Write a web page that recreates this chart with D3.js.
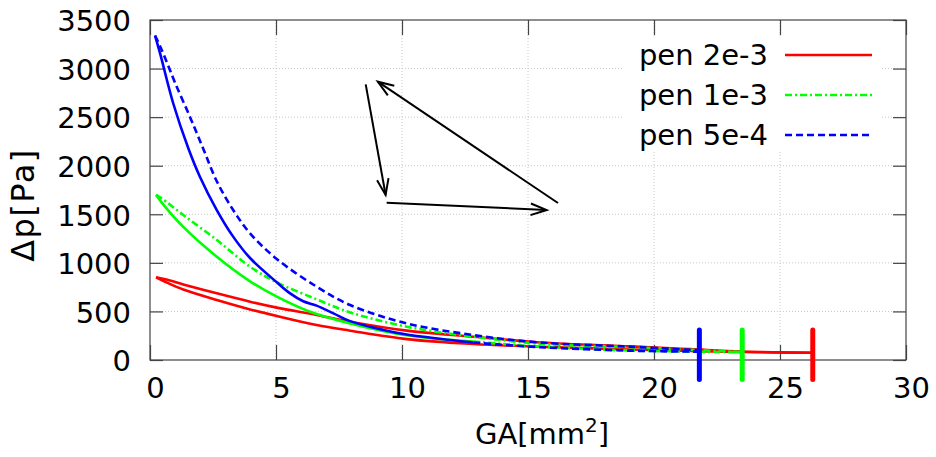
<!DOCTYPE html>
<html lang="en">
<head>
<meta charset="UTF-8">
<title>pressure drop vs gap area</title>
<style>
  body { margin: 0; background: #fff; }
  text { font-family: "DejaVu Sans", sans-serif; fill: #000; }
</style>
</head>
<body>
<svg width="936" height="457"></svg>
<script src="https://d3js.org/d3.v7.min.js"></script>
<script>

var xTicks = [0, 5, 10, 15, 20, 25, 30];
var yTicks = [0, 500, 1000, 1500, 2000, 2500, 3000, 3500];

var seriesNames = ["pen 2e-3", "pen 1e-3", "pen 5e-4"];
var seriesColors = ["#ff0000", "#00ff00", "#0000ff"];

// loops: [GA mm^2, dp Pa], upper and lower branch
var redUpper = [[0.24, 851], [0.79, 818], [1.32, 778], [2.65, 686], [3.97, 600], [5.03, 539], [6.61, 463], [7.94, 394],
    [10.19, 302], [12.83, 240], [15.48, 180], [19.05, 140], [21.43, 112], [23.5, 88], [26.3, 75]];
var redLower = [[0.24, 851], [0.6, 805], [1.32, 725], [2.65, 618], [3.97, 521], [5.03, 453], [6.61, 360], [7.94, 302],
    [10.19, 215], [12.83, 165], [15.48, 137], [19.05, 108], [21.43, 94], [23.5, 82], [26.3, 75]];

var greenUpper = [[0.24, 1699], [0.46, 1664], [1.32, 1493], [2.65, 1235], [3.97, 960], [5.03, 800], [6.61, 625], [7.94, 490],
    [10.19, 343], [12.83, 240], [15.48, 168], [19.05, 132], [21.43, 105], [23.5, 82]];
var greenLower = [[0.24, 1699], [0.53, 1600], [1.32, 1370], [2.65, 1063], [3.97, 810], [5.03, 652], [6.35, 497], [7.94, 377],
    [10.19, 255], [12.83, 190]];
var greenTail = [[12.83, 190], [15.48, 137], [19.05, 98], [21.43, 86], [23.5, 80]];

var blueUpper = [[0.2, 3340], [0.4, 3230], [0.66, 3070], [1.0, 2850], [1.59, 2500], [2.12, 2170], [2.65, 1840], [3.3, 1544],
    [3.97, 1304], [5.03, 1040], [6.61, 755], [7.94, 566], [10.19, 377], [12.83, 257], [15.48, 180], [19.05, 137], [21.8, 100]];
var blueLower = [[0.2, 3340], [0.4, 3157], [0.92, 2643], [1.52, 2180], [1.98, 1887], [2.65, 1544], [3.3, 1270], [3.97, 1050],
    [5.03, 800], [5.56, 686], [6.08, 605], [6.61, 560], [7.28, 480], [7.94, 400], [9.26, 309], [10.19, 262], [11.9, 206], [12.83, 180]];
var blueTail = [[12.83, 180], [15.48, 132], [19.05, 96], [21.8, 86]];

// end of each loop, marked by a vertical bar
var loopEnds = [26.3, 23.5, 21.8];
var markerSpan = [-200, 310];

// annotation arrows
var arrowFrom = [[8.56, 2838], [9.39, 1619], [16.19, 1616]];
var arrowTo = [[9.35, 1699], [15.74, 1544], [9.04, 2865]];

var svg = d3.select("svg"),
    plotLeft = 150, plotRight = 906, plotTop = 20, plotBottom = 360,
    fontSize = 29;

var x = d3.scaleLinear().domain([0, 30]).range([plotLeft, plotRight]);
var y = d3.scaleLinear().domain([0, 3500]).range([plotBottom, plotTop]);

// grid
var grid = svg.append("g")
    .attr("stroke", "#c8c8c8")
    .attr("stroke-width", 1)
    .attr("stroke-dasharray", "1,2");
grid.selectAll(".gx").data(xTicks.slice(1, -1)).enter().append("line")
    .attr("x1", function(d) { return x(d); }).attr("x2", function(d) { return x(d); })
    .attr("y1", plotTop).attr("y2", plotBottom);
grid.selectAll(".gy").data(yTicks.slice(1, -1)).enter().append("line")
    .attr("x1", plotLeft).attr("x2", plotRight)
    .attr("y1", function(d) { return y(d); }).attr("y2", function(d) { return y(d); });

// key box hides the grid behind it
svg.append("rect")
    .attr("x", 622).attr("y", 36).attr("width", 258).attr("height", 114)
    .attr("fill", "#fff");

// axes: ticks inside, mirrored
var axisColor = "#444";
var bottomAxis = svg.append("g").attr("transform", "translate(0," + plotBottom + ")")
    .call(d3.axisBottom(x).tickValues(xTicks).tickSize(-15).tickPadding(26).tickFormat(d3.format("d")));
var topAxis = svg.append("g").attr("transform", "translate(0," + plotTop + ")")
    .call(d3.axisTop(x).tickValues(xTicks).tickSize(-15).tickFormat(""));
var leftAxis = svg.append("g").attr("transform", "translate(" + plotLeft + ",0)")
    .call(d3.axisLeft(y).tickValues(yTicks).tickSize(-13).tickPadding(19).tickFormat(d3.format("d")));
var rightAxis = svg.append("g").attr("transform", "translate(" + plotRight + ",0)")
    .call(d3.axisRight(y).tickValues(yTicks).tickSize(-13).tickFormat(""));

[bottomAxis, topAxis, leftAxis, rightAxis].forEach(function(a) {
    a.select(".domain").remove();
    a.selectAll(".tick line").attr("stroke", axisColor).attr("stroke-width", 1.2);
    a.selectAll("text").attr("font-size", fontSize).attr("font-family", "DejaVu Sans, sans-serif").attr("fill", "#000");
});
bottomAxis.selectAll("text").attr("dx", 5).attr("dy", "0.4em");
leftAxis.selectAll("text").attr("dy", "0.37em");

svg.append("rect")
    .attr("x", plotLeft).attr("y", plotTop).attr("width", plotRight - plotLeft).attr("height", plotBottom - plotTop)
    .attr("fill", "none").attr("stroke", axisColor).attr("stroke-width", 1.2);

// axis titles
var xt = svg.append("text")
    .attr("x", 542).attr("y", 444)
    .attr("text-anchor", "middle").attr("font-size", fontSize);
xt.append("tspan").text("GA[mm");
xt.append("tspan").attr("font-size", 20).attr("dy", -12).text("2");
xt.append("tspan").attr("dy", 12).text("]");

svg.append("text")
    .attr("transform", "translate(34,205) rotate(-90)")
    .attr("text-anchor", "middle").attr("font-size", 32)
    .attr("letter-spacing", 1.5)
    .text("\u0394p[Pa]");

// curves
var line = d3.line()
    .x(function(d) { return x(d[0]); })
    .y(function(d) { return y(d[1]); })
    .curve(d3.curveCatmullRom.alpha(0.5));

var dashBlue = "7,4", dashGreen = "7,3,2,3";
var curves = [
    {data: redUpper, color: seriesColors[0], dash: null},
    {data: redLower, color: seriesColors[0], dash: null},
    {data: greenUpper, color: seriesColors[1], dash: dashGreen},
    {data: greenLower, color: seriesColors[1], dash: null},
    {data: greenTail, color: seriesColors[1], dash: dashGreen},
    {data: blueUpper, color: seriesColors[2], dash: dashBlue},
    {data: blueLower, color: seriesColors[2], dash: null},
    {data: blueTail, color: seriesColors[2], dash: dashBlue}
];

svg.append("g").selectAll("path").data(curves).enter().append("path")
    .attr("d", function(d) { return line(d.data); })
    .attr("fill", "none")
    .attr("stroke", function(d) { return d.color; })
    .attr("stroke-width", 2.6)
    .attr("stroke-linejoin", "round")
    .attr("stroke-dasharray", function(d) { return d.dash; });

// loop end markers
svg.append("g").selectAll("line").data(loopEnds).enter().append("line")
    .attr("x1", function(d) { return x(d); }).attr("x2", function(d) { return x(d); })
    .attr("y1", y(markerSpan[0])).attr("y2", y(markerSpan[1]))
    .attr("stroke", function(d, i) { return seriesColors[i]; })
    .attr("stroke-width", 5)
    .attr("stroke-linecap", "round");

// arrows
var ag = svg.append("g").attr("stroke", "#000").attr("stroke-width", 2).attr("fill", "none");
arrowFrom.forEach(function(p, i) {
    var x1 = x(p[0]), y1 = y(p[1]), x2 = x(arrowTo[i][0]), y2 = y(arrowTo[i][1]);
    var ang = Math.atan2(y2 - y1, x2 - x1), len = 17, spread = Math.PI / 9;
    ag.append("line").attr("x1", x1).attr("y1", y1).attr("x2", x2).attr("y2", y2);
    ag.append("path").attr("d",
        "M" + (x2 - len * Math.cos(ang - spread)) + "," + (y2 - len * Math.sin(ang - spread)) +
        "L" + x2 + "," + y2 +
        "L" + (x2 - len * Math.cos(ang + spread)) + "," + (y2 - len * Math.sin(ang + spread)));
});

// key
var dashes = [null, dashGreen, dashBlue];
var key = svg.append("g").selectAll("g").data(seriesNames).enter().append("g")
    .attr("transform", function(d, i) { return "translate(0," + (55 + i * 40) + ")"; });
key.append("text")
    .attr("x", 768).attr("y", 10)
    .attr("text-anchor", "end").attr("font-size", fontSize)
    .text(function(d) { return d; });
key.append("line")
    .attr("x1", 785).attr("x2", 872)
    .attr("stroke", function(d, i) { return seriesColors[i]; })
    .attr("stroke-width", 2.6)
    .attr("stroke-dasharray", function(d, i) { return dashes[i]; });

</script>
</body>
</html>
